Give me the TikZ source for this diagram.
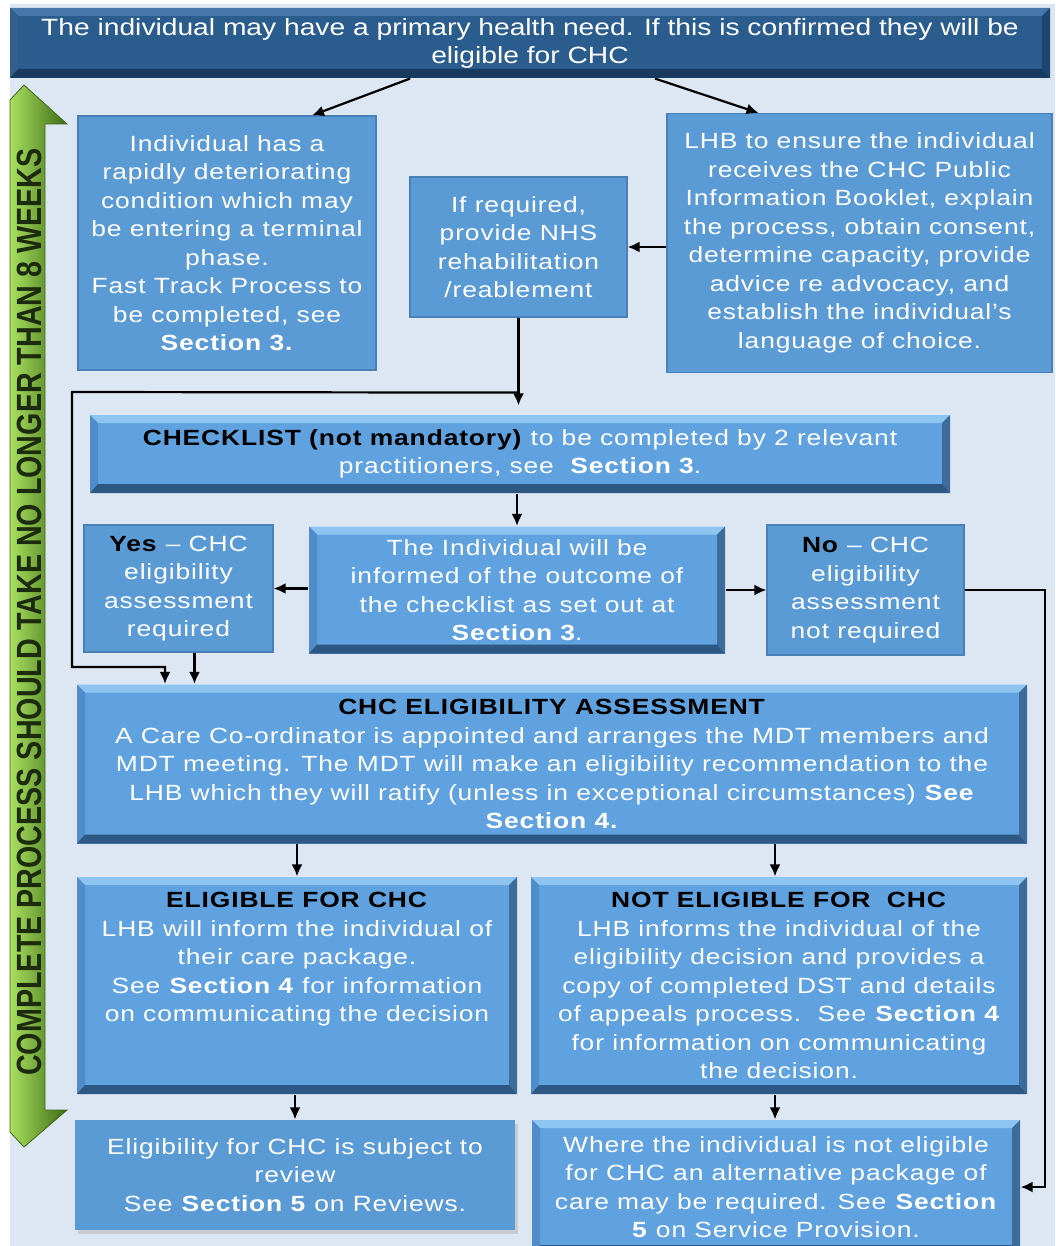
\documentclass[tikz,border=0pt]{standalone}
\usepackage{fontspec}
\setmainfont{Liberation Sans}[FakeStretch=1.2,LetterSpace=4]
\newfontfamily\bannerfont{Liberation Sans}[FakeStretch=1.2]
\newfontfamily\weeksfont{Liberation Sans}[FakeStretch=0.82]
\usepackage{xcolor}
\usetikzlibrary{arrows.meta,positioning,shadows}

\definecolor{pagebg}{HTML}{DDE7F3}
\definecolor{flatblue}{HTML}{5B9BD5}
\definecolor{flatedge}{HTML}{4A80B8}
\definecolor{faceblue}{HTML}{60A2DF}
\definecolor{bevtop}{HTML}{8DC4F0}
\definecolor{bevleft}{HTML}{4F8DCA}
\definecolor{bevbot}{HTML}{2E5783}
\definecolor{bevright}{HTML}{3C6B9C}
\definecolor{banface}{HTML}{2B5C8E}
\definecolor{bantop}{HTML}{4677A8}
\definecolor{banleft}{HTML}{325F8C}
\definecolor{banbot}{HTML}{173A5E}
\definecolor{banright}{HTML}{1F4670}
\definecolor{weeklight}{HTML}{A8E060}
\definecolor{weekdark}{HTML}{3E6A14}
\definecolor{weektext}{HTML}{1C2A0E}

\newcommand{\leadin}[1]{\textcolor{black}{\textbf{#1}}}

\begin{document}
\begin{tikzpicture}[
  x=1pt, y=-1pt,
  font=\fontsize{22}{28.5}\selectfont,
  box/.style={fill=flatblue, draw=flatedge, line width=1.2pt, text=white,
    align=center, inner sep=0pt},
  bevel/.style n args={5}{box, draw=none, fill=#1,
    path picture={
      \fill[#2] (path picture bounding box.north west)
        -- (path picture bounding box.north east)
        -- ([xshift=-8pt,yshift=-8pt]path picture bounding box.north east)
        -- ([xshift=8pt,yshift=-8pt]path picture bounding box.north west) -- cycle;
      \fill[#3] (path picture bounding box.north west)
        -- ([xshift=8pt,yshift=-8pt]path picture bounding box.north west)
        -- ([xshift=8pt,yshift=9pt]path picture bounding box.south west)
        -- (path picture bounding box.south west) -- cycle;
      \fill[#4] (path picture bounding box.south west)
        -- ([xshift=8pt,yshift=9pt]path picture bounding box.south west)
        -- ([xshift=-8pt,yshift=9pt]path picture bounding box.south east)
        -- (path picture bounding box.south east) -- cycle;
      \fill[#5] (path picture bounding box.south east)
        -- ([xshift=-8pt,yshift=9pt]path picture bounding box.south east)
        -- ([xshift=-8pt,yshift=-8pt]path picture bounding box.north east)
        -- (path picture bounding box.north east) -- cycle;
    }},
  bevelbox/.style={bevel={faceblue}{bevtop}{bevleft}{bevbot}{bevright}},
  bannerbox/.style={bevel={banface}{bantop}{banleft}{banbot}{banright},
    font=\bannerfont\fontsize{23.5}{28}\selectfont},
  flow/.style={-{Latex[length=12pt,width=11pt]}, line width=2.2pt, draw=black},
  weeks/.style={font=\weeksfont\bfseries\fontsize{35}{35}\selectfont,
    text=weektext, rotate=90, inner sep=0pt}
]
\useasboundingbox (0,0) rectangle (1055,1246);
\fill[pagebg] (10,4) rectangle (1055,1246);

% time arrow
\shade[left color=weeklight, right color=weekdark, draw=weekdark, line width=0.8pt]
  (24,85) -- (67,124) -- (45,124) -- (45,1110) -- (67,1110) -- (24,1147)
  -- (10,1132) -- (10,100) -- cycle;
\node[weeks] (weeks) at (29,612)
  {COMPLETE PROCESS SHOULD TAKE NO LONGER THAN 8 WEEKS};

% boxes
\node[bannerbox, minimum width=1040, minimum height=70] (banner) at (530,43)
  {The individual may have a primary health need. If this is confirmed they will be\\
   eligible for CHC};
\node[box, minimum width=298, minimum height=254] (fast) at (227,243)
  {Individual has a\\ rapidly deteriorating\\ condition which may\\
   be entering a terminal\\ phase.\\ Fast Track Process to\\ be completed, see\\
   \textbf{Section 3.}};
\node[box, minimum width=385, minimum height=259] (lhb) at (859.5,243)
  {LHB to ensure the individual\\ receives the CHC Public\\
   Information Booklet, explain\\ the process, obtain consent,\\
   determine capacity, provide\\ advice re advocacy, and\\
   establish the individual’s\\ language of choice.};
\node[box, minimum width=217, minimum height=140] (rehab) at (518.5,247)
  {If required,\\ provide NHS\\ rehabilitation\\ /reablement};
\node[bevelbox, minimum width=860, minimum height=78] (check) at (520,454)
  {\leadin{CHECKLIST (not mandatory)} to be completed by 2 relevant\\
   practitioners, see\ \ \textbf{Section 3}.};
\node[box, minimum width=189, minimum height=127] (yes) at (178.5,588.5)
  {\leadin{Yes} – CHC\\ eligibility\\ assessment\\ required};
\node[bevelbox, minimum width=416, minimum height=127] (inform) at (517,590)
  {The Individual will be\\ informed of the outcome of\\
   the checklist as set out at\\ \textbf{Section 3}.};
\node[box, minimum width=197, minimum height=130] (no) at (865.5,590)
  {\leadin{No} – CHC\\ eligibility\\ assessment\\ not required};
\node[bevelbox, minimum width=950, minimum height=159] (assess) at (552,764)
  {\leadin{CHC ELIGIBILITY ASSESSMENT}\\
   A Care Co-ordinator is appointed and arranges the MDT members and\\
   MDT meeting. The MDT will make an eligibility recommendation to the\\
   LHB which they will ratify (unless in exceptional circumstances) \textbf{See}\\
   \textbf{Section 4.}};
\node[bevelbox, minimum width=440, minimum height=217] (elig) at (297,985.5)
  {\leadin{ELIGIBLE FOR CHC}\\ LHB will inform the individual of\\
   their care package.\\ See \textbf{Section 4} for information\\
   on communicating the decision\\ \mbox{}\\ \mbox{}};
\node[bevelbox, minimum width=496, minimum height=217] (notel) at (779,985.5)
  {\leadin{NOT ELIGIBLE FOR\ \ CHC}\\ LHB informs the individual of the\\
   eligibility decision and provides a\\ copy of completed DST and details\\
   of appeals process.\ \ See \textbf{Section 4}\\
   for information on communicating\\ the decision.};
\node[box, draw=none, minimum width=440, minimum height=110,
  drop shadow={shadow xshift=3pt, shadow yshift=-4pt, fill=black!30}] (review) at (295,1175)
  {Eligibility for CHC is subject to\\ review\\ See \textbf{Section 5} on Reviews.};
\node[bevelbox, minimum width=488, minimum height=134] (alt) at (776,1187)
  {Where the individual is not eligible\\ for CHC an alternative package of\\
   care may be required. See \textbf{Section}\\ \textbf{5} on Service Provision.};

% connectors
\coordinate (jn) at ([yshift=-75pt]rehab.south);
\coordinate (loopL) at (72,392);
\coordinate (loopB) at (72,667);
\coordinate (rgt) at (1045,600);

\draw[flow] ([xshift=-120pt]banner.south) -- ([xshift=85pt]fast.north);
\draw[flow] ([xshift=125pt]banner.south) -- ([xshift=-101pt]lhb.north);
\draw[flow] (lhb.west |- rehab.east) -- (rehab.east);
\draw[flow, shorten >=9pt] (rehab.south) -- (rehab.south |- check.north);
\draw[flow] (jn) -- (loopL) -- (loopB) -| ([xshift=-387pt]assess.north);
\draw[flow] (inform.north |- check.south) -- (inform.north);
\draw[flow] (inform.west |- yes.east) -- (yes.east);
\draw[flow] (inform.east) -- (inform.east -| no.west);
\draw[flow] ([xshift=16pt]yes.south) -- ([xshift=16pt]yes.south |- assess.north);
\draw[flow] (no.east) -- (no.east -| rgt) -- (rgt |- alt.east) -- (alt.east);
\draw[flow] (elig.north |- assess.south) -- (elig.north);
\draw[flow] ([xshift=-4pt]notel.north |- assess.south) -- ([xshift=-4pt]notel.north);
\draw[flow] (review.north |- elig.south) -- (review.north);
\draw[flow] ([xshift=-1pt]alt.north |- notel.south) -- ([xshift=-1pt]alt.north);
\end{tikzpicture}
\end{document}
